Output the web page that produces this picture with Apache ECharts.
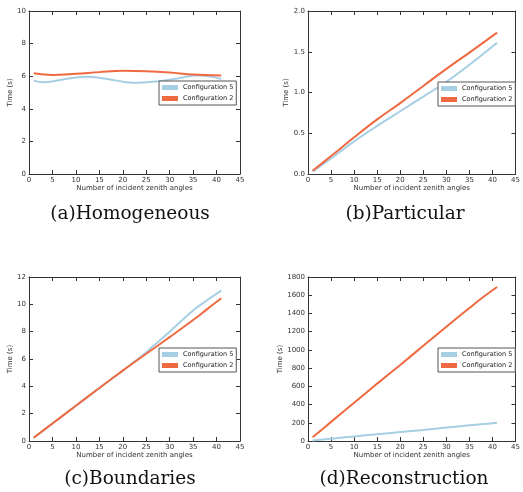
<!DOCTYPE html>
<html>
<head>
<meta charset="utf-8">
<script src="https://cdn.jsdelivr.net/npm/echarts@6/dist/echarts.min.js"></script>
<style>
  html, body { margin: 0; padding: 0; background: #fff; }
  #chart { width: 523px; height: 492px; }
</style>
</head>
<body>
<div id="chart"></div>
<script>
  // (a) Homogeneous
  var homX5 = [1, 3, 7, 12, 17, 22, 27, 32, 36, 39, 41];
  var homCfg5 = [5.73, 5.63, 5.78, 5.97, 5.82, 5.6, 5.68, 5.88, 6.05, 5.97, 5.83];
  var homX2 = [1, 5, 10, 15, 20, 25, 30, 35, 41];
  var homCfg2 = [6.18, 6.08, 6.15, 6.25, 6.33, 6.3, 6.22, 6.1, 6.05];

  // (b) Particular
  var parX = [1, 5, 10, 15, 20, 25, 30, 35, 41];
  var parCfg5 = [0.03, 0.19, 0.40, 0.59, 0.77, 0.95, 1.13, 1.34, 1.61];
  var parCfg2 = [0.04, 0.22, 0.45, 0.67, 0.87, 1.08, 1.29, 1.49, 1.735];

  // (c) Boundaries
  var bndX = [1, 5, 10, 15, 20, 22, 25, 30, 35, 38, 41];
  var bndCfg5 = [0.24, 1.28, 2.58, 3.88, 5.15, 5.67, 6.5, 8.0, 9.55, 10.3, 11.0];
  var bndCfg2 = [0.24, 1.28, 2.58, 3.88, 5.15, 5.65, 6.38, 7.6, 8.85, 9.65, 10.45];

  // (d) Reconstruction
  var recX = [1, 5, 10, 15, 20, 25, 30, 35, 38, 41];
  var recCfg5 = [5, 25, 50, 74, 98, 122, 147, 172, 186, 200];
  var recCfg2 = [40, 210, 420, 630, 835, 1045, 1255, 1460, 1580, 1690];

  var captions = ['(a)Homogeneous', '(b)Particular', '(c)Boundaries', '(d)Reconstruction'];
  var yMax = [10, 2, 12, 1800];
  var yStep = [2, 0.5, 2, 200];
  var yDigits = [0, 1, 0, 0];

  var blue = '#a6cfe4';
  var red = '#ef6a40';

  function pairs(xs, ys) {
    return xs.map(function (x, i) { return [x, ys[i]]; });
  }

  var panels = [
    { x5: homX5, y5: homCfg5, x2: homX2, y2: homCfg2 },
    { x5: parX, y5: parCfg5, x2: parX, y2: parCfg2 },
    { x5: bndX, y5: bndCfg5, x2: bndX, y2: bndCfg2 },
    { x5: recX, y5: recCfg5, x2: recX, y2: recCfg2 }
  ];

  var grids = [
    { left: 29, top: 11, width: 211, height: 163 },
    { left: 308, top: 11, width: 211, height: 163 },
    { left: 29, top: 277, width: 211, height: 164 },
    { left: 308, top: 277, width: 211, height: 164 }
  ];
  var legendPos = [[159, 81], [438, 82], [159, 348], [438, 348]];
  var captionPos = [[130, 205], [405, 205], [130, 470], [404, 470]];
  var yNameGap = [10, 14, 10, 18];

  var axisLine = { show: true, onZero: false, lineStyle: { color: '#333', width: 1 } };
  var axisTick = { show: true, inside: true, length: 4, lineStyle: { color: '#333' } };
  var labelStyle = { fontSize: 7, color: '#333', fontFamily: 'DejaVu Sans' };

  var xAxes = [], yAxes = [], series = [], legends = [], titles = [];

  for (var i = 0; i < 4; i++) {
    var digits = yDigits[i];
    xAxes.push({
      gridIndex: i, type: 'value', min: 0, max: 45, interval: 5, position: 'bottom',
      name: 'Number of incident zenith angles', nameLocation: 'middle', nameGap: 9,
      nameTextStyle: labelStyle,
      axisLine: axisLine, axisTick: axisTick, splitLine: { show: false },
      axisLabel: Object.assign({ margin: 3 }, labelStyle)
    });
    xAxes.push({
      gridIndex: i, type: 'value', min: 0, max: 45, interval: 5, position: 'top',
      axisLine: axisLine, axisTick: axisTick, splitLine: { show: false },
      axisLabel: { show: false }
    });
    yAxes.push({
      gridIndex: i, type: 'value', min: 0, max: yMax[i], interval: yStep[i], position: 'left',
      name: 'Time (s)', nameLocation: 'middle', nameGap: yNameGap[i],
      nameTextStyle: labelStyle,
      axisLine: axisLine, axisTick: axisTick, splitLine: { show: false },
      axisLabel: Object.assign({
        margin: 3,
        formatter: (function (d) { return function (v) { return v.toFixed(d); }; })(digits)
      }, labelStyle)
    });
    yAxes.push({
      gridIndex: i, type: 'value', min: 0, max: yMax[i], interval: yStep[i], position: 'right',
      axisLine: axisLine, axisTick: axisTick, splitLine: { show: false },
      axisLabel: { show: false }
    });

    var p = panels[i];
    series.push({
      name: 'Configuration 5', type: 'line', xAxisIndex: 2 * i, yAxisIndex: 2 * i,
      data: pairs(p.x5, p.y5), smooth: 0.4, showSymbol: false,
      lineStyle: { color: blue, width: 2 }, itemStyle: { color: blue }
    });
    series.push({
      name: 'Configuration 2', type: 'line', xAxisIndex: 2 * i, yAxisIndex: 2 * i,
      data: pairs(p.x2, p.y2), smooth: 0.4, showSymbol: false,
      lineStyle: { color: red, width: 2 }, itemStyle: { color: red }
    });

    legends.push({
      data: ['Configuration 5', 'Configuration 2'],
      left: legendPos[i][0], top: legendPos[i][1],
      orient: 'vertical', icon: 'rect', itemWidth: 16, itemHeight: 5, itemGap: 4,
      padding: [3, 3, 3, 3], borderColor: '#555', borderWidth: 1, backgroundColor: '#fff',
      textStyle: { fontSize: 6.5, color: '#222', fontFamily: 'DejaVu Sans' }
    });

    titles.push({
      text: captions[i], left: captionPos[i][0], top: captionPos[i][1], textAlign: 'center',
      padding: 0,
      textStyle: { fontFamily: 'DejaVu Serif', fontSize: 18.5, fontWeight: 'normal', color: '#111' }
    });
  }

  var mychart = echarts.init(document.getElementById('chart'));
  mychart.setOption({
    animation: false,
    backgroundColor: '#fff',
    title: titles,
    legend: legends,
    grid: grids,
    xAxis: xAxes,
    yAxis: yAxes,
    series: series
  });
</script>
</body>
</html>
